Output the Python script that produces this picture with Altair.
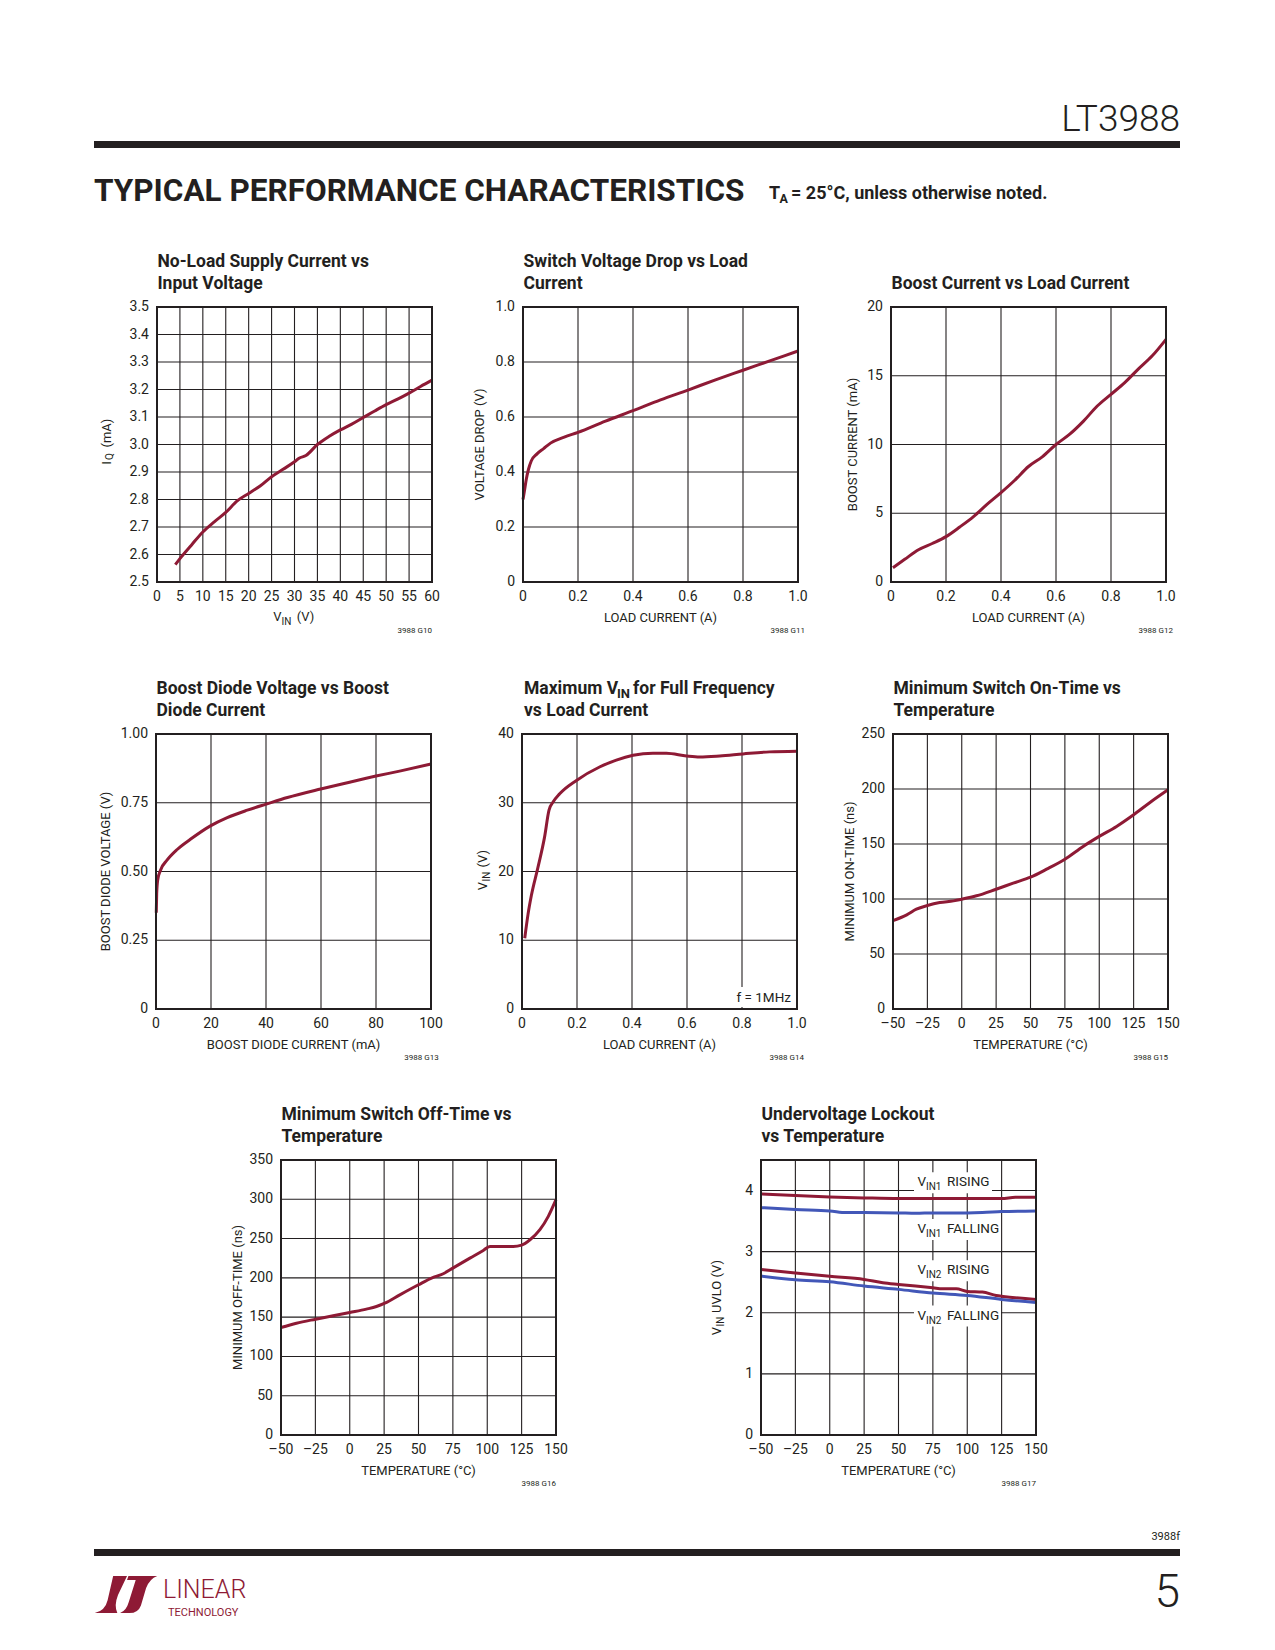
import altair as alt
import pandas as pd

# ---------------- data ----------------
iq_vin = [4, 5, 7.5, 10, 12.5, 15, 17.5, 20, 22.5, 25, 27.5, 30, 31, 32.5, 35, 37.5, 40, 42.5, 45, 47.5, 50, 52.5, 55, 57.5, 60]
iq_ma = [2.563, 2.585, 2.634, 2.682, 2.719, 2.753, 2.795, 2.822, 2.849, 2.883, 2.91, 2.937, 2.95, 2.96, 3.0,
         3.029, 3.053, 3.074, 3.098, 3.122, 3.145, 3.165, 3.187, 3.211, 3.234]

drop_a = [0, 0.005, 0.012, 0.02, 0.03, 0.05, 0.075, 0.1, 0.15, 0.2, 0.3, 0.4, 0.5, 0.6, 0.7, 0.8, 0.9, 1.0]
drop_v = [0.30, 0.33, 0.374, 0.41, 0.44, 0.465, 0.485, 0.505, 0.527, 0.544, 0.585, 0.623, 0.662, 0.698, 0.735, 0.77, 0.805, 0.84]

boost_a = [0.007, 0.05, 0.1, 0.15, 0.2, 0.25, 0.3, 0.35, 0.4, 0.45, 0.5, 0.55, 0.6, 0.65, 0.7, 0.75, 0.8, 0.85, 0.9, 0.95, 1.0]
boost_ma = [1.04, 1.65, 2.35, 2.8, 3.3, 4.0, 4.76, 5.66, 6.5, 7.4, 8.4, 9.1, 10.0, 10.75, 11.7, 12.8, 13.65, 14.5, 15.5, 16.45, 17.65]

diode_ma = [0.1, 0.25, 0.6, 1.6, 4, 7.7, 12.5, 19.8, 25.9, 33.2, 40.1, 47.8, 59.9, 69.6, 80, 89, 100]
diode_v = [0.35, 0.419, 0.468, 0.504, 0.541, 0.58, 0.617, 0.666, 0.696, 0.723, 0.745, 0.769, 0.80, 0.823, 0.847, 0.866, 0.891]

vmax_a = [0.01, 0.022, 0.034, 0.058, 0.082, 0.098, 0.113, 0.137, 0.198, 0.282, 0.343, 0.404, 0.476, 0.525, 0.598, 0.646, 0.719, 0.804, 0.9, 1.0]
vmax_v = [10.3, 13.8, 16.5, 20.6, 25.0, 28.9, 30.1, 31.3, 33.25, 35.2, 36.2, 36.9, 37.2, 37.2, 36.8, 36.65, 36.8, 37.1, 37.4, 37.5]

ton_c = [-50, -40, -33, -25, -16, -6, 0, 10.7, 25, 37.4, 50, 61.7, 75, 88.3, 100, 112.6, 125, 136.9, 150]
ton_ns = [80.4, 85.6, 90.7, 94.1, 96.8, 98.3, 99.8, 102.9, 108.9, 114.4, 119.8, 127.1, 136.2, 147.8, 156.9, 166, 176.6, 187.8, 199.3]

toff_c = [-50, -38.8, -24.8, -12.1, 0, 12.1, 19.4, 25.5, 36.4, 50, 59.5, 68, 75, 87.4, 97.1, 101.9, 109.2, 118.9, 125, 131.1, 138.3, 144.4, 150]
toff_ns = [136.8, 142.3, 147.4, 151.7, 155.9, 160.2, 163.5, 167.8, 178.4, 191.2, 199.7, 205.2, 212.4, 225.1, 234.9, 240, 240, 240,
           241.7, 248.5, 261.3, 278.3, 299.5]

vin1_rise_c = [-50, -25, 0, 25, 50, 75, 100, 125, 135, 150]
vin1_rise_v = [3.945, 3.918, 3.896, 3.88, 3.869, 3.869, 3.869, 3.869, 3.89, 3.89]
vin1_fall_c = [-50, -25, 0, 12, 25, 50, 62.8, 75, 100, 111, 125, 150]
vin1_fall_v = [3.72, 3.689, 3.667, 3.639, 3.639, 3.634, 3.628, 3.634, 3.634, 3.639, 3.656, 3.667]
vin2_rise_c = [-50, -25, 0, 25, 38.6, 50, 75, 82, 92, 100, 111, 121, 126, 150]
vin2_rise_v = [2.71, 2.65, 2.596, 2.546, 2.492, 2.464, 2.41, 2.393, 2.393, 2.35, 2.339, 2.284, 2.268, 2.219]
vin2_fall_c = [-50, -25, 0, 25, 50, 75, 100, 125, 150]
vin2_fall_v = [2.601, 2.541, 2.508, 2.437, 2.383, 2.322, 2.284, 2.219, 2.169]

# tick values and their printed labels
vin_ticks = list(range(0, 61, 5))
vin_labels = [str(v) for v in vin_ticks]
iq_ticks = [2.5, 2.6, 2.7, 2.8, 2.9, 3.0, 3.1, 3.2, 3.3, 3.4, 3.5]
iq_labels = ["2.5", "2.6", "2.7", "2.8", "2.9", "3.0", "3.1", "3.2", "3.3", "3.4", "3.5"]
amp_ticks = [0, 0.2, 0.4, 0.6, 0.8, 1.0]
amp_labels = ["0", "0.2", "0.4", "0.6", "0.8", "1.0"]
boost_ticks = [0, 5, 10, 15, 20]
boost_labels = ["0", "5", "10", "15", "20"]
dcur_ticks = [0, 20, 40, 60, 80, 100]
dcur_labels = ["0", "20", "40", "60", "80", "100"]
dv_ticks = [0, 0.25, 0.5, 0.75, 1.0]
dv_labels = ["0", "0.25", "0.50", "0.75", "1.00"]
vmax_ticks = [0, 10, 20, 30, 40]
vmax_labels = ["0", "10", "20", "30", "40"]
temp_ticks = [-50, -25, 0, 25, 50, 75, 100, 125, 150]
temp_labels = ["\u201350", "\u201325", "0", "25", "50", "75", "100", "125", "150"]
ton_ticks = [0, 50, 100, 150, 200, 250]
ton_labels = ["0", "50", "100", "150", "200", "250"]
toff_ticks = [0, 50, 100, 150, 200, 250, 300, 350]
toff_labels = ["0", "50", "100", "150", "200", "250", "300", "350"]
uv_ticks = [0, 1, 2, 3, 4]
uv_labels = ["0", "1", "2", "3", "4"]

# ---------------- styles ----------------
RED = "#8e1a35"
BLUE = "#4257b8"
INK = "#231f20"
FONT = "Roboto, Liberation Sans, sans-serif"
CW, CH = 1259, 1634          # whole page inside the 8px body margin
PW = PH = 275
ONE = pd.DataFrame({"a": [0]})
TICK = 14


def T(s, x, y, size=13.5, weight="normal", align="left", baseline="alphabetic", angle=0, color=INK):
    props = dict(align=align, baseline=baseline, fontSize=size, fontWeight=weight, font=FONT, color=color)
    if angle:
        props["angle"] = angle
    return alt.Chart(pd.DataFrame({"t": [s]})).mark_text(**props).encode(
        x=alt.value(x), y=alt.value(y), text="t:N")


def box(x1, x2, y1, y2, color="white", opacity=1.0):
    return alt.Chart(ONE).mark_rect(color=color, opacity=opacity).encode(
        x=alt.value(x1), x2=alt.value(x2), y=alt.value(y1), y2=alt.value(y2))


def make_panel(L, Tp, xdom, ydom, xv, xl, yv, yl, series, before, after, gid, gx):
    x0, y0 = L - 8, Tp - 8
    xs = alt.Scale(domain=xdom, range=[x0, x0 + PW], nice=False, zero=False)
    ys = alt.Scale(domain=ydom, range=[y0 + PH, y0], nice=False, zero=False)

    gx_df = pd.DataFrame({"v": xv, "lo": [ydom[0]] * len(xv), "hi": [ydom[1]] * len(xv), "lab": xl})
    gy_df = pd.DataFrame({"v": yv, "lo": [xdom[0]] * len(yv), "hi": [xdom[1]] * len(yv), "lab": yl})
    grid_x = alt.Chart(gx_df).mark_rule(color=INK, strokeWidth=1.1).encode(
        x=alt.X("v:Q", scale=xs, axis=None), y=alt.Y("lo:Q", scale=ys, axis=None), y2="hi:Q")
    grid_y = alt.Chart(gy_df).mark_rule(color=INK, strokeWidth=1.1).encode(
        y=alt.Y("v:Q", scale=ys, axis=None), x=alt.X("lo:Q", scale=xs, axis=None), x2="hi:Q")
    lab_x = alt.Chart(gx_df).mark_text(align="center", baseline="alphabetic", fontSize=TICK, font=FONT, color=INK).encode(
        x=alt.X("v:Q", scale=xs, axis=None), y=alt.value(y0 + PH + 19), text="lab:N")
    lab_y = alt.Chart(gy_df).mark_text(align="right", baseline="middle", fontSize=TICK, font=FONT, color=INK).encode(
        y=alt.Y("v:Q", scale=ys, axis=None), x=alt.value(x0 - 8), text="lab:N")
    fr_df = pd.DataFrame({"a0": [xdom[0]], "a1": [xdom[1]], "b0": [ydom[0]], "b1": [ydom[1]]})
    frame = alt.Chart(fr_df).mark_rect(filled=False, stroke=INK, strokeWidth=2).encode(
        x=alt.X("a0:Q", scale=xs, axis=None), x2="a1:Q", y=alt.Y("b0:Q", scale=ys, axis=None), y2="b1:Q")

    lines = []
    for df, col in series:
        enc = dict(x=alt.X("x:Q", scale=xs, axis=None), y=alt.Y("y:Q", scale=ys, axis=None))
        if isinstance(col, str):
            mk = alt.Chart(df).mark_line(color=col, strokeWidth=3, interpolate="monotone")
        else:
            mk = alt.Chart(df).mark_line(strokeWidth=3, interpolate="monotone")
            enc["color"] = col
            enc["detail"] = "s:N"
        lines.append(mk.encode(**enc))

    gl = T(gid, x0 + PW + gx, y0 + PH + 49, 8, align="right", baseline="middle")
    return alt.layer(grid_x, grid_y, *before(x0, y0), *lines, frame, lab_x, lab_y, *after(x0, y0), gl)


def titles(lines):
    def f(x0, y0):
        if len(lines) == 2:
            return [T(lines[0], x0 + 0.5, y0 - 40.5, 17.5, "bold"), T(lines[1], x0 + 0.5, y0 - 17.8, 17.5, "bold")]
        return [T(lines[0], x0 + 0.5, y0 - 17.8, 17.5, "bold")]
    return f


def xtitle(s, x0, y0):
    return T(s, x0 + PW / 2, y0 + PH + 40, 13, align="center")


def ytitle(s, xoff, x0, y0):
    return T(s, x0 + xoff, y0 + PH / 2, 13, angle=270, align="center", baseline="middle")


def nothing(x0, y0):
    return []


def xy(xs, ys):
    return pd.DataFrame({"x": xs, "y": ys})


# ---------------- panels ----------------
def p1_after(x0, y0):
    b = y0 + PH
    return titles(["No-Load Supply Current vs", "Input Voltage"])(x0, y0) + [
        T("V", x0 + 116.3, b + 39.3, 13), T("IN", x0 + 124.5, b + 43.3, 10), T("(V)", x0 + 139.7, b + 39.3, 13),
        T("I", x0 - 50.5, y0 + 157.7, 13, angle=270, baseline="middle"),
        T("Q", x0 - 47, y0 + 153, 10, angle=270, baseline="middle"),
        T("(mA)", x0 - 50.5, y0 + 140.5, 13, angle=270, baseline="middle")]


p1 = make_panel(157, 307, [0, 60], [2.5, 3.5], vin_ticks, vin_labels, iq_ticks, iq_labels,
                [(xy(iq_vin, iq_ma), RED)], nothing, p1_after, "3988 G10", 0)


def p2_after(x0, y0):
    return titles(["Switch Voltage Drop vs Load", "Current"])(x0, y0) + [
        xtitle("LOAD CURRENT (A)", x0, y0), ytitle("VOLTAGE DROP (V)", -43, x0, y0)]


p2 = make_panel(523, 307, [0, 1], [0, 1], amp_ticks, amp_labels, amp_ticks, amp_labels,
                [(xy(drop_a, drop_v), RED)], nothing, p2_after, "3988 G11", 7)


def p3_after(x0, y0):
    return titles(["Boost Current vs Load Current"])(x0, y0) + [
        xtitle("LOAD CURRENT (A)", x0, y0), ytitle("BOOST CURRENT (mA)", -38, x0, y0)]


p3 = make_panel(891, 307, [0, 1], [0, 20], amp_ticks, amp_labels, boost_ticks, boost_labels,
                [(xy(boost_a, boost_ma), RED)], nothing, p3_after, "3988 G12", 7)


def p4_after(x0, y0):
    return titles(["Boost Diode Voltage vs Boost", "Diode Current"])(x0, y0) + [
        xtitle("BOOST DIODE CURRENT (mA)", x0, y0), ytitle("BOOST DIODE VOLTAGE (V)", -50.5, x0, y0)]


p4 = make_panel(156, 734, [0, 100], [0, 1], dcur_ticks, dcur_labels, dv_ticks, dv_labels,
                [(xy(diode_ma, diode_v), RED)], nothing, p4_after, "3988 G13", 7.7)


def p5_before(x0, y0):
    return [box(x0 + 214, x0 + 272, y0 + 253, y0 + 273)]


def p5_after(x0, y0):
    return [
        T("Maximum V", x0 + 2, y0 - 40.5, 17.5, "bold"), T("IN", x0 + 95, y0 - 36.5, 13, "bold"),
        T("for Full Frequency", x0 + 111, y0 - 40.5, 17.5, "bold"), T("vs Load Current", x0 + 2, y0 - 17.8, 17.5, "bold"),
        T("f = 1MHz", x0 + 269, y0 + 268, 13.5, align="right"),
        xtitle("LOAD CURRENT (A)", x0, y0),
        T("V", x0 - 39, y0 + 156.3, 13, angle=270, baseline="middle"),
        T("IN", x0 - 35.5, y0 + 147.5, 10, angle=270, baseline="middle"),
        T("(V)", x0 - 39, y0 + 133.5, 13, angle=270, baseline="middle")]


p5 = make_panel(522, 734, [0, 1], [0, 40], amp_ticks, amp_labels, vmax_ticks, vmax_labels,
                [(xy(vmax_a, vmax_v), RED)], p5_before, p5_after, "3988 G14", 7)


def p6_after(x0, y0):
    return titles(["Minimum Switch On-Time vs", "Temperature"])(x0, y0) + [
        xtitle("TEMPERATURE (\u00b0C)", x0, y0), ytitle("MINIMUM ON-TIME (ns)", -43.5, x0, y0)]


p6 = make_panel(893, 734, [-50, 150], [0, 250], temp_ticks, temp_labels, ton_ticks, ton_labels,
                [(xy(ton_c, ton_ns), RED)], nothing, p6_after, "3988 G15", 0)


def p7_after(x0, y0):
    return titles(["Minimum Switch Off-Time vs", "Temperature"])(x0, y0) + [
        xtitle("TEMPERATURE (\u00b0C)", x0, y0), ytitle("MINIMUM OFF-TIME (ns)", -43.5, x0, y0)]


p7 = make_panel(281, 1160, [-50, 150], [0, 350], temp_ticks, temp_labels, toff_ticks, toff_labels,
                [(xy(toff_c, toff_ns), RED)], nothing, p7_after, "3988 G16", 0)

uv_rows = []
for name, kind, cs, vs in [("r1", "rise", vin1_rise_c, vin1_rise_v), ("f1", "fall", vin1_fall_c, vin1_fall_v),
                           ("r2", "rise", vin2_rise_c, vin2_rise_v), ("f2", "fall", vin2_fall_c, vin2_fall_v)]:
    for c, v in zip(cs, vs):
        uv_rows.append({"x": c, "y": v, "s": name, "k": kind})
uv_df = pd.DataFrame(uv_rows)
uv_color = alt.Color("k:N", scale=alt.Scale(domain=["rise", "fall"], range=[RED, BLUE]), legend=None)

UV_LABELS = [("IN1", "RISING", 26.3, 231), ("IN1", "FALLING", 73, 240),
             ("IN2", "RISING", 114.3, 231), ("IN2", "FALLING", 159.6, 240)]


def p8_before(x0, y0):
    return [box(x0 + 153, x0 + x2, y0 + yb - 14, y0 + yb + 7) for _, _, yb, x2 in UV_LABELS]


def p8_after(x0, y0):
    out = []
    for sub, word, yb, _ in UV_LABELS:
        out += [T("V", x0 + 156.4, y0 + yb), T(sub, x0 + 165, y0 + yb + 4, 10), T(word, x0 + 186, y0 + yb)]
    return out + titles(["Undervoltage Lockout", "vs Temperature"])(x0, y0) + [
        xtitle("TEMPERATURE (\u00b0C)", x0, y0),
        T("V", x0 - 44, y0 + 175.3, 13, angle=270, baseline="middle"),
        T("IN", x0 - 40.5, y0 + 166.5, 10, angle=270, baseline="middle"),
        T("UVLO (V)", x0 - 44, y0 + 153, 13, angle=270, baseline="middle")]


p8 = make_panel(761, 1160, [-50, 150], [0, 4.5], temp_ticks, temp_labels, uv_ticks, uv_labels,
                [(uv_df, uv_color)], p8_before, p8_after, "3988 G17", 0)

# ---------------- page header / footer (chart coords = page - 8) ----------------
header = [
    T("LT3988", 1172, 123, 37, weight=300, align="right"),
    box(86, 1172, 133, 140, color=INK),
    T("TYPICAL PERFORMANCE CHARACTERISTICS", 86, 193, 31.5, weight="bold"),
    T("T", 761, 191, 18, "bold"), T("A", 771.5, 195, 12.5, "bold"),
    T("= 25\u00b0C, unless otherwise noted.", 783, 191, 18, "bold"),
]


def logo_path(d):
    out = []
    for tok in d.split():
        if tok[0].isalpha():
            out.append(tok[0])
            tok = tok[1:]
            if not tok:
                continue
        px, py = [float(v) for v in tok.split(",")]
        out.append("%.3f,%.3f" % ((px - 135) / 90, (py - 103.5) / 90))
    return " ".join(out)


LOGO_L = "M98,50 L138,50 L112,105 Q100,135 110,157 L45,157 Q75,150 82,120 Z"
LOGO_T = "M142,50 L225,50 Q203,58 193,85 L178,135 Q170,157 145,157 L118,157 Q136,150 143,125 L163,62 L138,62 Z"
logo_shape = logo_path(LOGO_L) + " " + logo_path(LOGO_T)

footer = [
    T("3988f", 1172, 1532, 11, align="right"),
    box(86, 1172, 1541, 1548, color=INK),
    T("5", 1172, 1599, 46, weight=300, align="right"),
    alt.Chart(ONE).mark_point(shape=logo_shape, filled=True, color=RED, opacity=1, size=3900, strokeWidth=0).encode(
        x=alt.value(118), y=alt.value(1586.5)),
    T("LINEAR", 155, 1590, 25, weight=300, color=RED),
    T("TECHNOLOGY", 160, 1607.5, 11, color=RED),
]

chart = alt.layer(p1, p2, p3, p4, p5, p6, p7, p8, *header, *footer).resolve_scale(
    x="independent", y="independent", color="independent"
).properties(
    width=CW, height=CH, padding=0, background="white",
    autosize=alt.AutoSizeParams(type="none"),
).configure_view(strokeWidth=0)

chart.save("out.html", embed_options={"renderer": "svg", "actions": False})
